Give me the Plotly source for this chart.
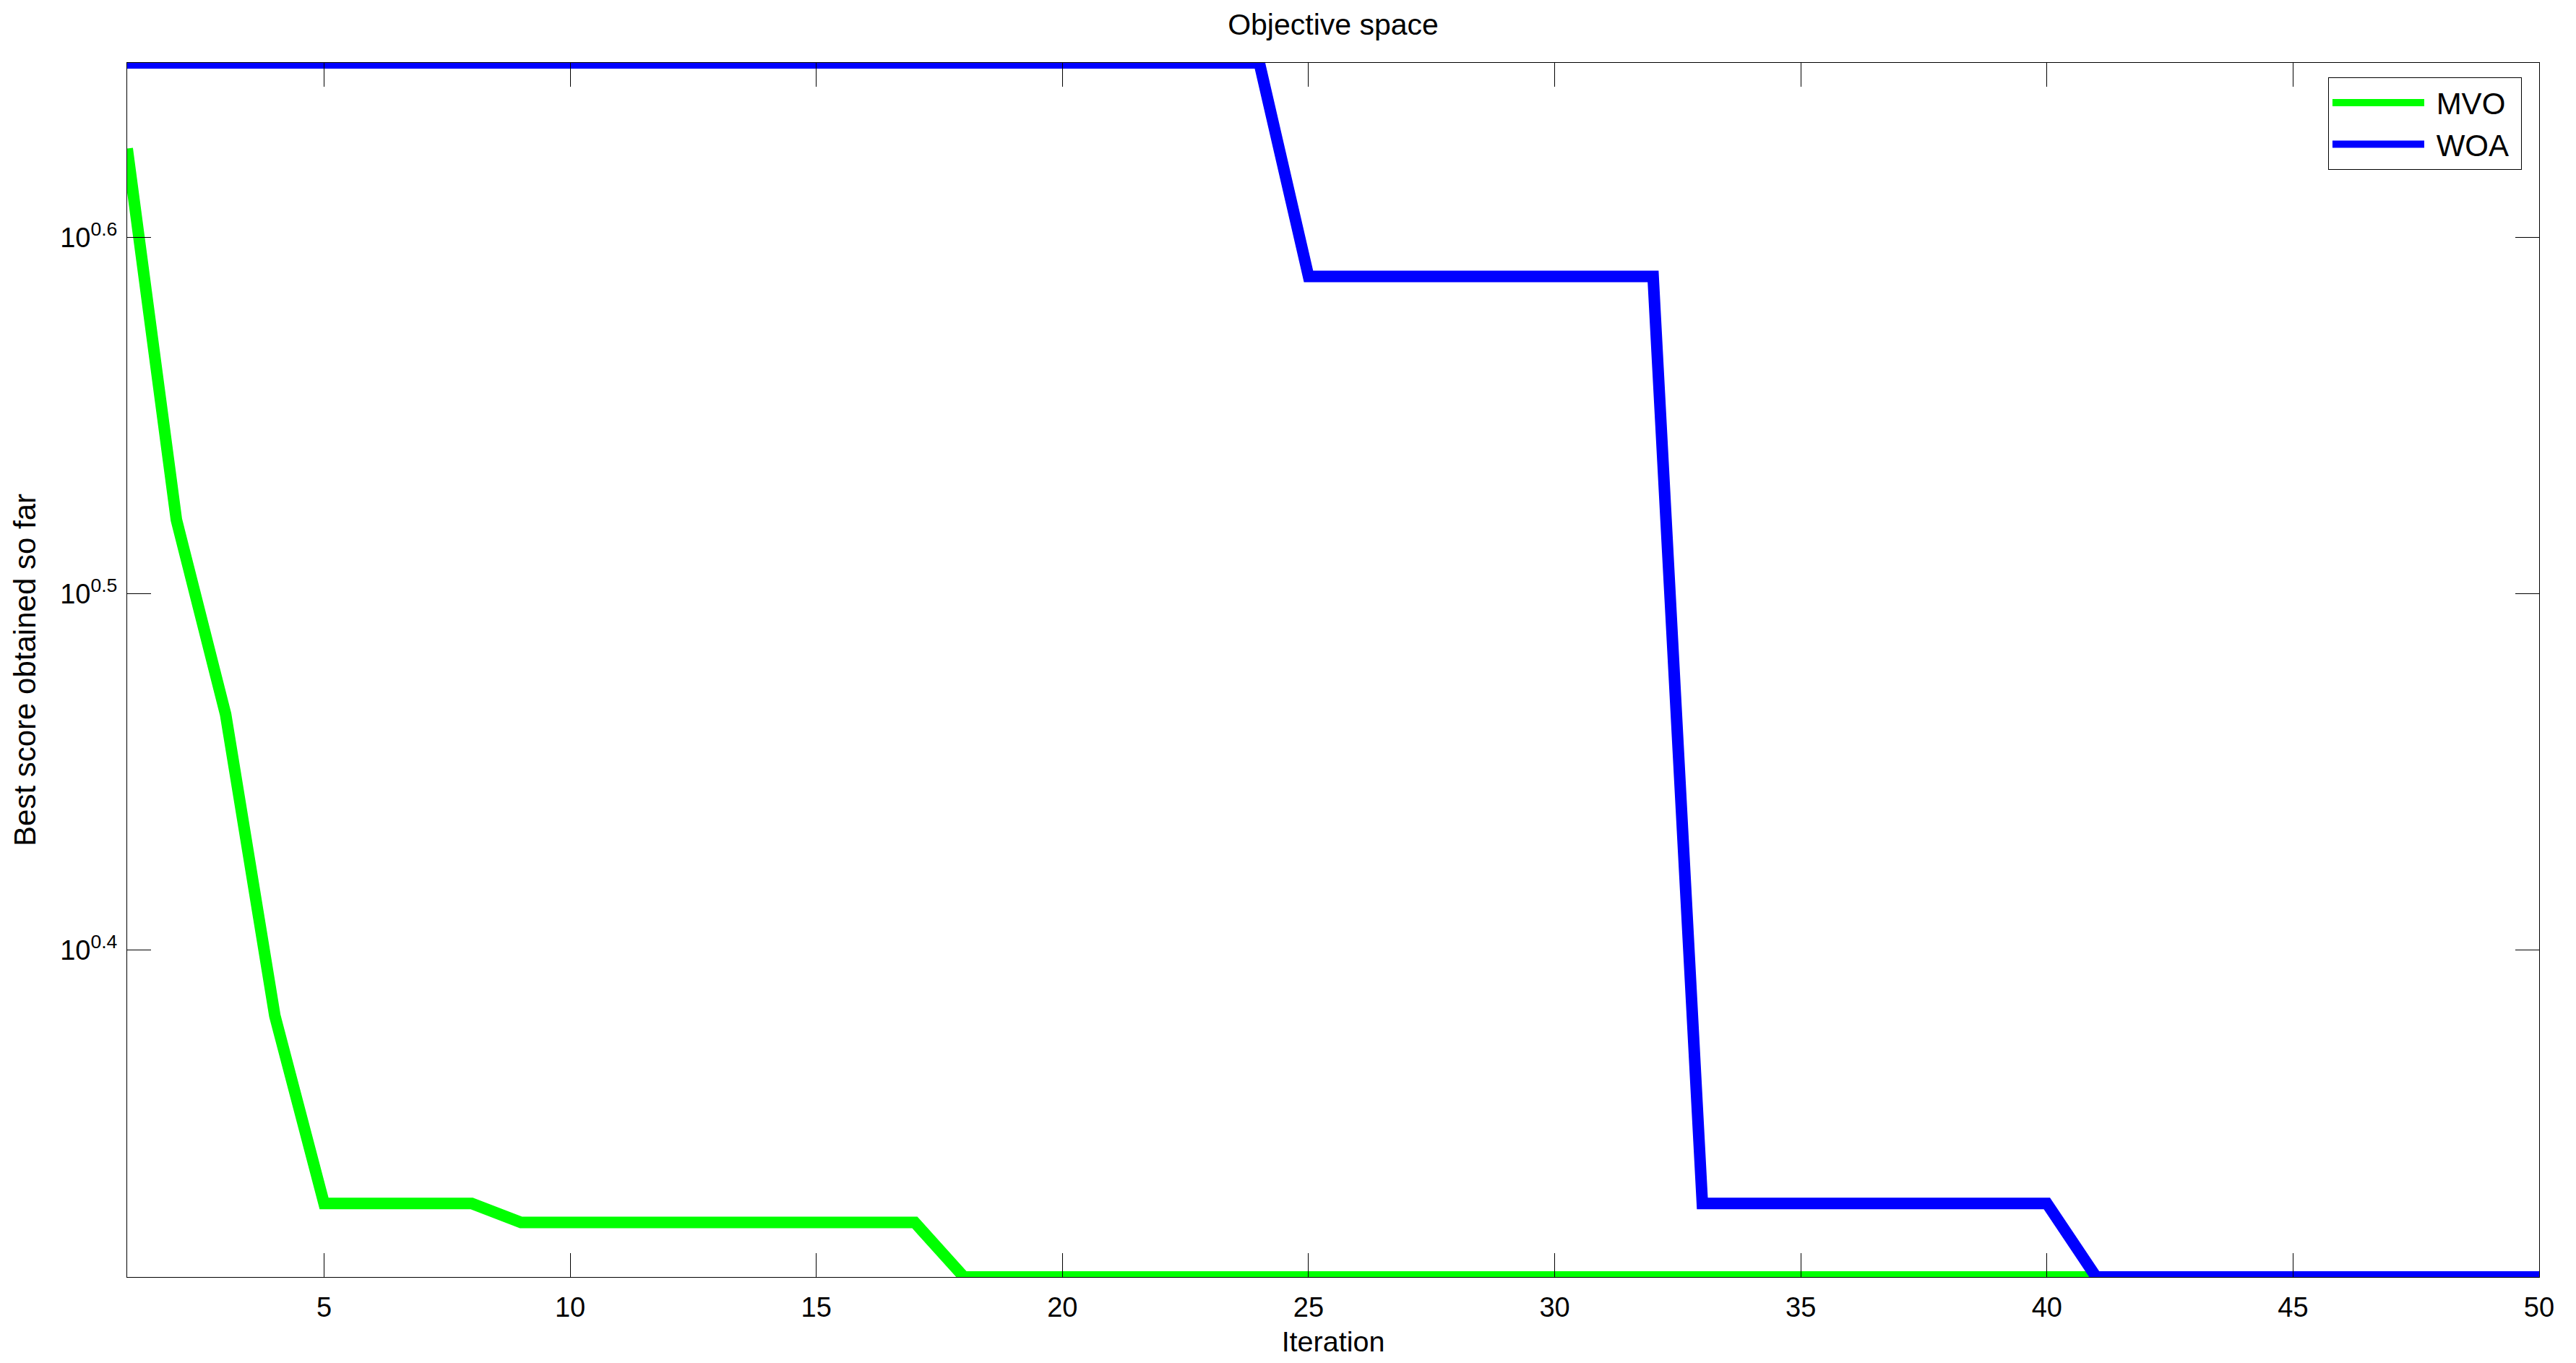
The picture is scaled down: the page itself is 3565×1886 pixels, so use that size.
import numpy as np
import plotly.graph_objs as go

# convergence curves
iterations = list(range(1, 51))

mvo = [4.217, 3.317, 2.925, 2.407, 2.132, 2.132, 2.132, 2.132, 2.106, 2.106,
       2.106, 2.106, 2.106, 2.106, 2.106, 2.106, 2.106, 2.033, 2.033, 2.033,
       2.033, 2.033, 2.033, 2.033, 2.033, 2.033, 2.033, 2.033, 2.033, 2.033,
       2.033, 2.033, 2.033, 2.033, 2.033, 2.033, 2.033, 2.033, 2.033, 2.033,
       2.033, 2.033, 2.033, 2.033, 2.033, 2.033, 2.033, 2.033, 2.033, 2.033]

woa = [4.457, 4.457, 4.457, 4.457, 4.457, 4.457, 4.457, 4.457, 4.457, 4.457,
       4.457, 4.457, 4.457, 4.457, 4.457, 4.457, 4.457, 4.457, 4.457, 4.457,
       4.457, 4.457, 4.457, 4.457, 3.882, 3.882, 3.882, 3.882, 3.882, 3.882,
       3.882, 3.882, 2.132, 2.132, 2.132, 2.132, 2.132, 2.132, 2.132, 2.132,
       2.033, 2.033, 2.033, 2.033, 2.033, 2.033, 2.033, 2.033, 2.033, 2.033]

x_ticks = [5, 10, 15, 20, 25, 30, 35, 40, 45, 50]
y_exps = [0.4, 0.5, 0.6]

FONT = "Liberation Sans, Arial, Helvetica, sans-serif"
NB = "\u00a0"

fig = go.Figure()
fig.add_trace(go.Scatter(x=iterations, y=mvo, mode="lines", name=NB + "MVO" + NB,
                         line=dict(color="#00ff00", width=16)))
fig.add_trace(go.Scatter(x=iterations, y=woa, mode="lines", name=NB + "WOA" + NB,
                         line=dict(color="#0000ff", width=16)))

all_vals = mvo + woa
y_range = [np.log10(min(all_vals)), np.log10(max(all_vals))]

axis_style = dict(showline=True, linecolor="black", linewidth=1, mirror="ticks",
                  ticks="inside", ticklen=33, tickwidth=1, tickcolor="black",
                  showgrid=False, zeroline=False, automargin=False,
                  tickfont=dict(family=FONT, size=38, color="black"))

fig.update_xaxes(range=[1, 50], tickvals=x_ticks, ticklabelstandoff=8,
                 title=dict(text="Iteration", standoff=13,
                            font=dict(family=FONT, size=39.5, color="black")),
                 **axis_style)
fig.update_yaxes(type="log", range=y_range,
                 tickvals=[10 ** e for e in y_exps],
                 ticktext=["10<sup>%s</sup>" % e for e in y_exps],
                 ticklabelstandoff=5,
                 title=dict(text="Best score obtained so far", standoff=20,
                            font=dict(family=FONT, size=42, color="black")),
                 **axis_style)

# page body has an 8px margin, so the figure is 16px smaller than the window
fig.update_layout(
    width=3549, height=1870,
    margin=dict(l=168, r=43, t=79, b=111, autoexpand=False),
    paper_bgcolor="white", plot_bgcolor="white",
    font=dict(family=FONT, color="black"),
    title=dict(text="Objective space", x=0.5, xref="paper", xanchor="center",
               y=1 - 26 / 1870, yanchor="middle", yref="container",
               font=dict(family=FONT, size=41, color="black")),
    legend=dict(x=0.9928, y=0.988, xanchor="right", yanchor="top",
                bordercolor="black", borderwidth=1, bgcolor="white",
                itemwidth=127, font=dict(family=FONT, size=42, color="black")),
)

fig.write_html("out.html")
